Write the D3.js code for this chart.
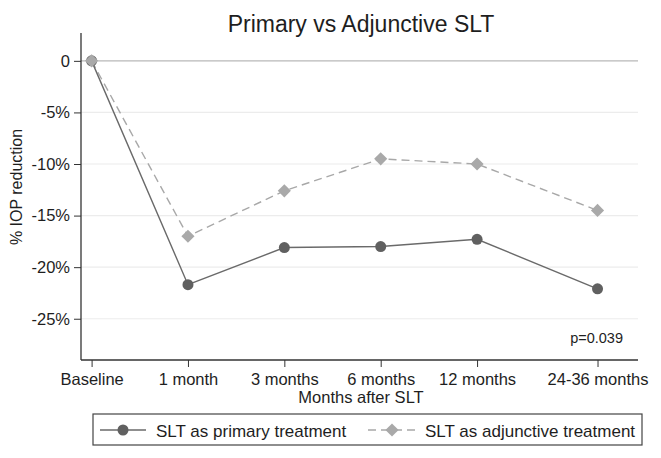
<!DOCTYPE html>
<html><head><meta charset="utf-8">
<script src="https://cdn.jsdelivr.net/npm/d3@7"></script>
<style>body{margin:0;background:#fff;font-family:"Liberation Sans",Arial,sans-serif;}</style>
</head><body><svg id="c" width="661" height="458"></svg>
<script>
const categories = ["Baseline","1 month","3 months","6 months","12 months","24-36 months"];
const xValues = [0,1,2,3,4,5.25];
const primary = [0,-21.7,-18.1,-18.0,-17.3,-22.1];
const adjunctive = [0,-17.0,-12.6,-9.5,-10.0,-14.5];
const yTicks = [0,-5,-10,-15,-20,-25];
const yTickLabels = ["0","-5%","-10%","-15%","-20%","-25%"];
const seriesNames = ["SLT as primary treatment","SLT as adjunctive treatment"];

const svg = d3.select("#c");
const L=81,R=638,T=33,B=360;
const x = d3.scaleLinear().domain([-0.11,5.67]).range([L,R]);
const y = d3.scaleLinear().domain([-29,2.7]).range([B,T]);
const font='"Liberation Sans",Arial,sans-serif';
const ink="#1e1e1e";

// gridlines
svg.append("g").selectAll("line").data(yTicks).join("line")
  .attr("x1",L).attr("x2",R).attr("y1",d=>y(d)).attr("y2",d=>y(d))
  .attr("stroke",d=>d===0?"#b8b8b8":"#ececec").attr("stroke-width",d=>d===0?1.4:1.2);

// axes
const ya = svg.append("g").attr("transform",`translate(${L},0)`)
  .call(d3.axisLeft(y).tickValues(yTicks).tickFormat((d,i)=>yTickLabels[i]).tickSize(7).tickPadding(4));
ya.select(".domain").attr("d",`M0,${T}V${B}`).attr("stroke","#333").attr("stroke-width",1.3);
const xa = svg.append("g").attr("transform",`translate(0,${B})`)
  .call(d3.axisBottom(x).tickValues(xValues).tickFormat((d,i)=>categories[i]).tickSize(7).tickPadding(6));
xa.select(".domain").attr("d",`M${L},0H${R}`).attr("stroke","#333").attr("stroke-width",1.3);
svg.selectAll(".tick line").attr("stroke","#333");
svg.selectAll(".tick text").attr("font-size",16.5).attr("font-family",font).attr("fill",ink);

// lines
const line = d3.line().x((d,i)=>x(xValues[i])).y(d=>y(d));
svg.append("path").datum(adjunctive).attr("d",line).attr("fill","none")
  .attr("stroke","#a8a8a8").attr("stroke-width",1.4).attr("stroke-dasharray","8,5");
svg.append("path").datum(primary).attr("d",line).attr("fill","none")
  .attr("stroke","#6a6a6a").attr("stroke-width",1.4);
svg.append("g").selectAll("circle").data(primary).join("circle")
  .attr("cx",(d,i)=>x(xValues[i])).attr("cy",d=>y(d)).attr("r",5.5).attr("fill","#606060");
const dia = d3.symbol().type(d3.symbolDiamond2).size(110);
svg.append("g").selectAll("path").data(adjunctive).join("path")
  .attr("transform",(d,i)=>`translate(${x(xValues[i])},${y(d)})`).attr("d",dia).attr("fill","#a9a9a9");

// texts
svg.append("text").attr("x",361).attr("y",32).attr("text-anchor","middle")
  .attr("font-size",23).attr("font-family",font).attr("fill",ink).text("Primary vs Adjunctive SLT");
svg.append("text").attr("transform","translate(22,187) rotate(-90)").attr("text-anchor","middle")
  .attr("font-size",16).attr("font-family",font).attr("fill",ink).text("% IOP reduction");
svg.append("text").attr("x",361).attr("y",403).attr("text-anchor","middle")
  .attr("font-size",16.5).attr("font-family",font).attr("fill",ink).text("Months after SLT");
svg.append("text").attr("x",623).attr("y",343).attr("text-anchor","end")
  .attr("font-size",14.5).attr("font-family",font).attr("fill",ink).text("p=0.039");

// legend
svg.append("rect").attr("x",93).attr("y",414).attr("width",549).attr("height",31)
  .attr("fill","#fff").attr("stroke","#444").attr("stroke-width",1.2);
const lg = svg.append("g");
lg.append("line").attr("x1",100).attr("x2",146).attr("y1",430).attr("y2",430).attr("stroke","#6a6a6a").attr("stroke-width",1.4);
lg.append("circle").attr("cx",123).attr("cy",430).attr("r",5.5).attr("fill","#606060");
lg.append("text").attr("x",156).attr("y",437).attr("font-size",17).attr("font-family",font).attr("fill",ink).text(seriesNames[0]);
lg.append("line").attr("x1",368).attr("x2",416).attr("y1",430).attr("y2",430).attr("stroke","#a8a8a8").attr("stroke-width",1.4).attr("stroke-dasharray","8,5");
lg.append("path").attr("transform","translate(392,430)").attr("d",dia).attr("fill","#a9a9a9");
lg.append("text").attr("x",425).attr("y",437).attr("font-size",17).attr("font-family",font).attr("fill",ink).text(seriesNames[1]);
</script></body></html>
